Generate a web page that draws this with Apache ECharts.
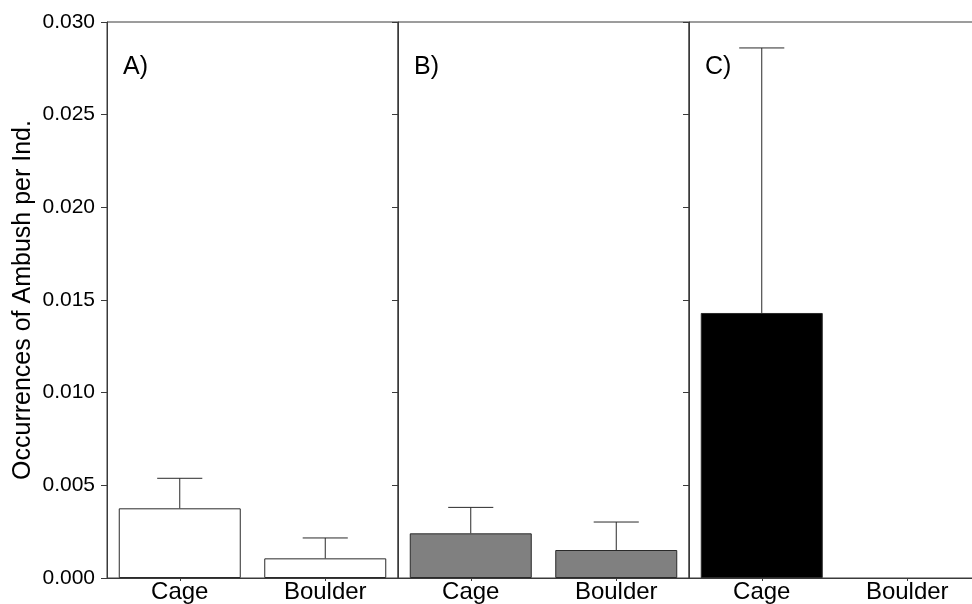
<!DOCTYPE html>
<html>
<head>
<meta charset="utf-8">
<script src="https://cdn.jsdelivr.net/npm/echarts@6/dist/echarts.min.js"></script>
<style>html,body{margin:0;padding:0;background:#fff;overflow:hidden;}#c{width:982px;height:604px;}</style>
</head>
<body>
<div id="c"></div>
<script>
// ---- data ----
const categories = ['Cage', 'Boulder'];
const panelLabels = ['A)', 'B)', 'C)'];
const meansA = [0.00376, 0.00106];
const errA   = [0.00162, 0.00110];
const meansB = [0.00241, 0.00151];
const errB   = [0.00140, 0.00151];
const meansC = [0.0143, 0];
const errC   = [0.0143, null];
const yTicks = [0, 0.005, 0.010, 0.015, 0.020, 0.025, 0.030];
const yTitle = 'Occurrences of Ambush per Ind.';

// ---- chart ----
const FONT = '"Liberation Sans", Arial, sans-serif';
const AX = '#3a3a3a';
const panels = [
  {means: meansA, errs: errA, fill: '#ffffff'},
  {means: meansB, errs: errB, fill: '#808080'},
  {means: meansC, errs: errC, fill: '#000000'}
];
const grids = [], xAxes = [], yAxes = [], series = [], graphics = [];
const lefts = [107, 398, 689];
panels.forEach((p, i) => {
  grids.push({left: lefts[i], top: 22, width: 291, height: 556, show: true,
    borderColor: AX, borderWidth: 1, backgroundColor: 'transparent', containLabel: false});
  xAxes.push({type: 'category', gridIndex: i, data: categories,
    axisLine: {lineStyle: {color: AX, width: 1}},
    axisTick: {show: true, alignWithLabel: true, length: 3, lineStyle: {color: AX}},
    axisLabel: {color: '#000', fontFamily: FONT, fontSize: 24, margin: 2, interval: 0},
    splitLine: {show: false}});
  yAxes.push({type: 'value', gridIndex: i, min: yTicks[0], max: yTicks[yTicks.length - 1],
    interval: 0.005,
    axisLine: {show: true, lineStyle: {color: AX, width: 1}},
    axisTick: {show: true, length: 6, lineStyle: {color: AX}},
    axisLabel: {show: i === 0, color: '#000', fontFamily: FONT, fontSize: 21, margin: 12,
      formatter: v => v.toFixed(3)},
    splitLine: {show: false},
    name: i === 0 ? yTitle : '', nameLocation: 'middle', nameGap: 71, nameRotate: 90,
    nameTextStyle: {color: '#000', fontFamily: FONT, fontSize: 25}});
  series.push({type: 'bar', xAxisIndex: i, yAxisIndex: i, barWidth: 122,
    data: p.means.map(v => v === 0 ? null : v),
    itemStyle: {color: p.fill, borderColor: '#2a2a2a', borderWidth: 1}, silent: true});
  series.push({type: 'custom', xAxisIndex: i, yAxisIndex: i, silent: true, z: 5,
    data: p.means.map((m, k) => [k, m, p.errs[k]]),
    renderItem: function (params, api) {
      const e = api.value(2);
      if (e === null || e === undefined || isNaN(e) || e === '-') return null;
      const m = api.value(1);
      const base = api.coord([api.value(0), m]);
      const top = api.coord([api.value(0), m + e]);
      const hw = api.size([1, 0])[0] * 0.155;
      const style = {stroke: '#2a2a2a', lineWidth: 1};
      return {type: 'group', children: [
        {type: 'line', shape: {x1: base[0], y1: base[1], x2: top[0], y2: top[1]}, style: style},
        {type: 'line', shape: {x1: top[0] - hw, y1: top[1], x2: top[0] + hw, y2: top[1]}, style: style}
      ]};
    }});
  graphics.push({type: 'text', left: lefts[i] + 16, top: 55,
    style: {text: panelLabels[i], fill: '#000', font: '25px ' + FONT}});
});

const chart = echarts.init(document.getElementById('c'), null, {renderer: 'canvas'});
chart.setOption({
  animation: false,
  backgroundColor: '#fff',
  grid: grids, xAxis: xAxes, yAxis: yAxes, series: series, graphic: graphics
});
</script>
</body>
</html>
